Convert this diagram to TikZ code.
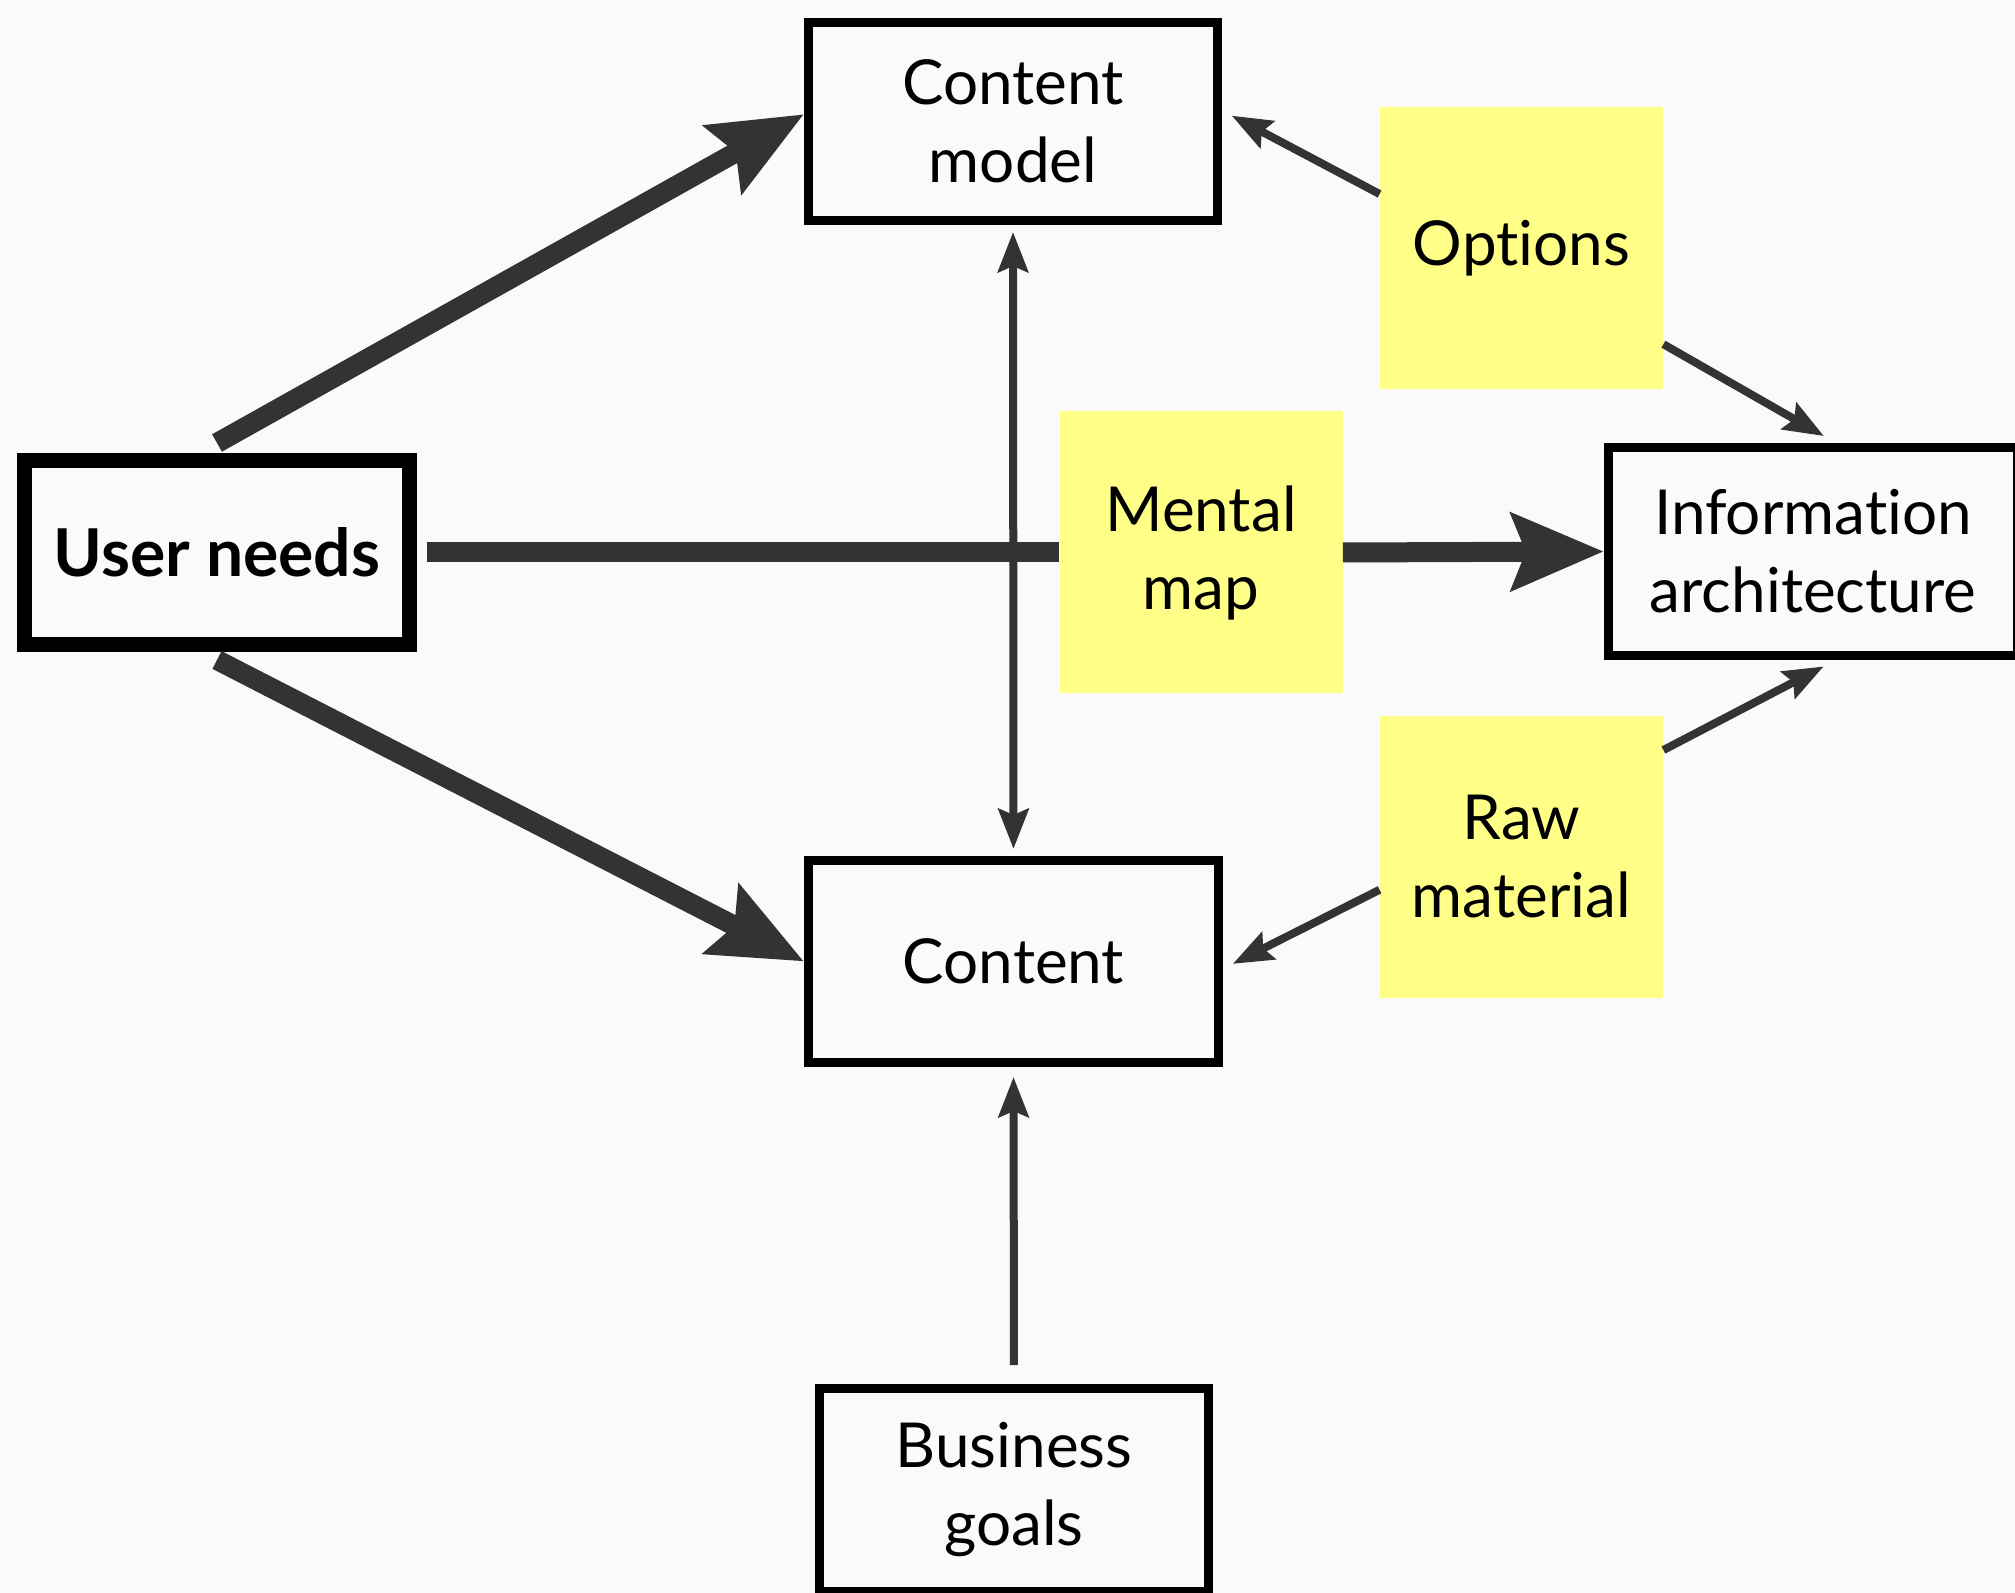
\documentclass[tikz,border=0pt]{standalone}
\usepackage{fontspec}
\setmainfont{Lato}[Ligatures=NoCommon]
\usetikzlibrary{arrows.meta}
\definecolor{pagebg}{HTML}{FAFAFA}
\definecolor{sticky}{HTML}{FFFF88}
\definecolor{linegray}{HTML}{333333}
\begin{document}
\begin{tikzpicture}[x=0.5pt, y=-0.5pt,
		font=\fontsize{31}{39}\selectfont,
		box/.style={draw=black, line width=4.5pt, fill=pagebg, align=center, inner sep=0pt},
		note/.style={fill=sticky, align=center, inner sep=0pt, minimum width=141.5pt, minimum height=141pt},
		bigline/.style={draw=linegray, line width=10pt},
		bigarrow/.style={bigline, -{Stealth[length=46pt, width=38pt, inset=7pt]}},
		smallarrow/.style={draw=linegray, line width=4pt, >={Stealth[length=20pt, width=15pt, inset=3pt]}, ->}]
		\fill[pagebg] (0,0) rectangle (2015,1593);
		\useasboundingbox (0,0) rectangle (2015,1593);
		\node[box, minimum width=204.5pt, minimum height=99pt] (cm) at (1013,121.5) {Content\\model};
		\node[box, line width=7.5pt, minimum width=192.5pt, minimum height=92pt, font=\fontsize{33}{39}\selectfont\bfseries] (un) at (217,552.5) {User needs};
		\node[box, minimum width=205pt, minimum height=101pt] (ct) at (1013.5,961.5) {Content};
		\node[box, minimum width=194.5pt, minimum height=101.5pt] (bg) at (1014,1490) {Business\\goals};
		\node[box, minimum width=204.5pt, minimum height=104pt] (ia) at (1813,551.5) {Information\\architecture};
		\node[note] (op) at (1521.5,248.5) {Options};
		\node[note] (mm) at (1201,552.5) {Mental\\map};
		\node[note] (rm) at (1521.5,857) {Raw\\material};
		\draw[bigarrow] ([yshift=5pt]un.north) -- (cm.178);
		\draw[bigarrow] ([yshift=-4pt]un.south) -- (ct.west);
		\draw[bigline, shorten <=5pt] (un.east) -- (mm.west);
		\draw[bigarrow] (mm.east) -- (ia.west);
		\draw[smallarrow, <->, shorten <=3.5pt, shorten >=3.5pt] (cm.south) -- (ct.north);
		\draw[smallarrow, shorten <=9.5pt, shorten >=5pt] (bg.north) -- (ct.south);
		\draw[smallarrow, shorten >=5.5pt] (op.159) -- (cm.3);
		\draw[smallarrow, shorten >=7pt] (op.-34) -- (ia.78);
		\draw[smallarrow, shorten >=7pt] (rm.37) -- (ia.-78);
		\draw[smallarrow, shorten >=5.5pt] (rm.193) -- (ct.-2);
\end{tikzpicture}
\end{document}
